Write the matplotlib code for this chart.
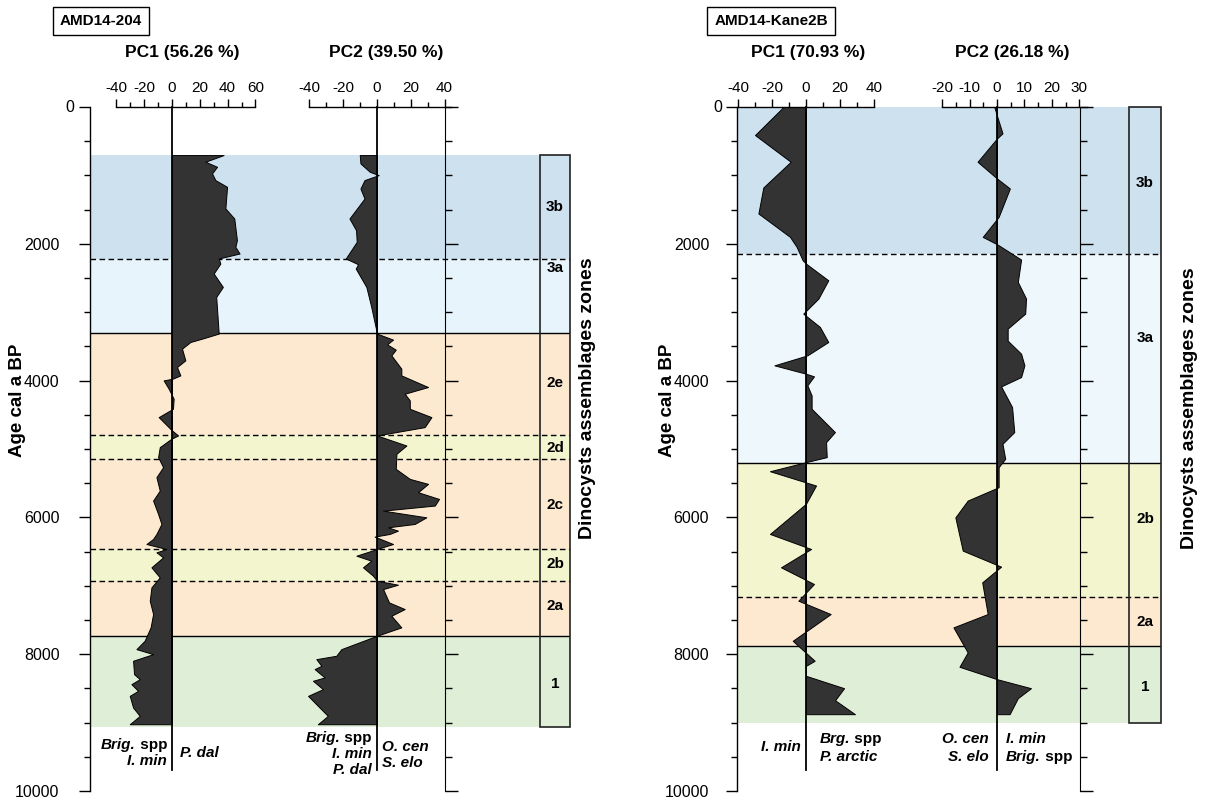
import matplotlib
matplotlib.use("Agg")
import matplotlib.pyplot as plt
from matplotlib.patches import Rectangle
from matplotlib.ticker import MultipleLocator, FuncFormatter

plt.rcParams['font.family'] = ['Liberation Sans', 'DejaVu Sans']
plt.rcParams['axes.unicode_minus'] = False

# ---------------- data ----------------
# AMD14-204
l_zone_edges = [700, 2220, 3300, 4800, 5140, 6460, 6930, 7730, 9070]
l_zone_names = ['3b', '3a', '2e', '2d', '2c', '2b', '2a', '1']
l_zone_label_age = [1460, 2360, 4030, 4990, 5820, 6680, 7290, 8430]
l_zone_colors = ['#cde1ef', '#e8f4fb', '#fce9cf', '#f3f5cf', '#fce9cf', '#f3f5cf', '#fce9cf', '#dfefd7']
l_bound_styles = ['--', '-', '--', '--', '--', '--', '-']

l_pc1_age = [703, 800, 874, 971, 1069, 1167, 1483, 1630, 1947, 2045, 2142, 2215, 2289, 2435, 2631,
             2777, 3313, 3387, 3436, 3533, 3704, 3801, 3924, 3972, 3997, 4119, 4265, 4412, 4534, 4729,
             4802, 4851, 4973, 5119, 5266, 5412, 5608, 5754, 5950, 6096, 6242, 6315, 6389, 6462, 6511,
             6584, 6730, 6877, 7023, 7218, 7413, 7608, 7804, 7926, 7999, 8096, 8292, 8365, 8438, 8536,
             8609, 8780, 8902, 9024]
l_pc1_val = [37.1, 24, 32.4, 28.8, 31.2, 39.6, 38.4, 44.8, 46.7, 45.6, 48.6, 33.6, 34.8, 30, 36.6,
             31.8, 33.6, 21.6, 13.2, 7.2, 9.6, 3.6, 6, 0.5, -6, -2.4, 1.2, 0.7, -9.6, 0,
             4.4, -0.5, -8.8, -10, -6.4, -11.2, -8.8, -13.6, -10, -7.6, -11.2, -13.6, -18.4, -4, -11.2,
             -6.4, -14.8, -8.8, -14.8, -16, -13.6, -15.4, -19.7, -25.6, -13.6, -28, -27.3, -23.2, -29.2, -24.4,
             -30.4, -28, -23.2, -30.4]

l_pc2_age = [703, 825, 947, 996, 1069, 1192, 1338, 1630, 1801, 1972, 2215, 2299, 2362, 2631, 2924,
             3313, 3401, 3470, 3548, 3631, 3826, 3924, 4094, 4192, 4290, 4412, 4534, 4680, 4802, 4949,
             5070, 5290, 5437, 5510, 5632, 5730, 5827, 5901, 5999, 6096, 6145, 6194, 6242, 6281, 6389,
             6462, 6560, 6633, 6730, 6852, 6926, 6984, 7048, 7243, 7340, 7438, 7608, 7730, 7926, 8023,
             8072, 8170, 8218, 8340, 8389, 8511, 8609, 8682, 8902, 9024]
l_pc2_val = [-10.2, -9.8, -4.3, 1, -7.4, -9.8, -7.4, -16.3, -12.4, -12, -18.5, -11.2, -12.6, -6.3, -3.4,
             0, 9.5, 6, 11.1, 8.5, 14.4, 14.4, 30.2, 16.4, 19.4, 19.4, 32.2, 28.2, 0, 17.4,
             11.5, 11.1, 19.4, 30.2, 24.3, 36.7, 34.2, 3.6, 29.2, 22.3, 6.5, 12.4, 7.5, -1.4, 9.5,
             0, -12.2, -3.4, -8.3, -2.4, 0, 12.4, 3.6, 7.1, 16.4, 8.5, 14.4, 0, -21.1, -24.1,
             -35.9, -32.9, -36.9, -31, -37.9, -32, -40.8, -37.9, -29.1, -35]

# AMD14-Kane2B
r_zone_edges = [0, 2150, 5200, 7170, 7880, 9000]
r_zone_names = ['3b', '3a', '2b', '2a', '1']
r_zone_label_age = [1110, 3370, 6030, 7525, 8480]
r_zone_colors = ['#cde1ef', '#eef7fb', '#f3f5cf', '#fce9cf', '#dfefd7']
r_bound_styles = ['--', '-', '--', '-']

r_pc1_age = [0, 410, 801, 1176, 1557, 1899, 2045, 2240, 2290, 2533, 2801, 3021, 3216, 3436, 3631,
             3777, 3899, 3938, 4070, 4216, 4412, 4753, 4900, 5119, 5192, 5325, 5534, 5800, 6242, 6462,
             6730, 6974, 7218, 7413, 7804, 8096, 8170, 8316, 8497, 8673, 8877]
r_pc1_val = [-13.3, -30, -9, -25.1, -28, -9.4, -5.5, -2, 0, 13.1, 7.3, -1.6, 8.2, 13.1, 0.8,
             -18.6, 0, 4.7, 0.8, 3.3, 3.3, 17, 11.8, 12.2, 0, -21.2, 5.9, 0, -21.2, 3,
             -14.7, 4.7, -4.5, 14.5, -7.8, 5.1, 0, 0, 22.4, 17.1, 28.8]

r_pc2_age = [0, 385, 459, 801, 1045, 1191, 1606, 1899, 2006, 2230, 2557, 2801, 3021, 3240, 3416,
             3607, 3777, 3948, 4085, 4387, 4753, 4924, 5143, 5266, 5559, 5754, 6000, 6486, 6720, 6950,
             7413, 7608, 7974, 8184, 8365, 8497, 8643, 8877]
r_pc2_val = [-1, 2, 0, -7.1, 0, 4.7, 0.6, -5.2, 0, 8.8, 7.6, 10.6, 10.3, 3.9, 3.9,
             8.8, 10, 8.8, 1.5, 5.5, 6.3, 2, 3, 0.6, 0.6, -10.7, -15.2, -12.5, 1.5, -5.4,
             -3.4, -15.9, -10.7, -13.7, 0, 12.4, 7.6, 4.6]

# ---------------- layout (pixels) ----------------
W, H = 1205, 802
Y0, Y1 = 107, 791  # age 0 and age 10000
fig = plt.figure(figsize=(W / 100, H / 100), dpi=100)


def add_px(x0, x1, y0=Y0, y1=Y1):
    return fig.add_axes([x0 / W, 1 - y1 / H, (x1 - x0) / W, (y1 - y0) / H])


def age_ticks(ax):
    ax.set_ylim(10000, 0)
    ax.yaxis.set_major_locator(MultipleLocator(2000))
    ax.yaxis.set_minor_locator(MultipleLocator(500))


def background(x0, col0, col1, edges, colors, styles, names, label_ages, pad):
    ax = add_px(x0, col1)
    ax.set_xlim(0, 1)
    age_ticks(ax)
    # the "0" label sits closer to the axis in the original; drawn separately
    ax.yaxis.set_major_formatter(FuncFormatter(lambda v, p: '' if v == 0 else '%d' % v))
    for s in ['top', 'right', 'bottom']:
        ax.spines[s].set_visible(False)
    ax.spines['left'].set_linewidth(1.0)
    ax.set_xticks([])
    ax.tick_params(axis='y', which='major', length=8, width=1, labelsize=11.5, pad=pad)
    ax.tick_params(axis='y', which='minor', length=4, width=1)
    for i, c in enumerate(colors):
        ax.axhspan(edges[i], edges[i + 1], color=c, lw=0, zorder=0)
    for age, ls in zip(edges[1:-1], styles):
        if ls == '--':
            ax.axhline(age, color='k', lw=1.0, ls=(0, (4, 2.5)), zorder=1)
        else:
            ax.axhline(age, color='k', lw=1.0, zorder=1)
    cx = (col0 - x0) / (col1 - x0)
    ax.add_patch(Rectangle((cx, edges[0]), 1 - cx, edges[-1] - edges[0], fill=False,
                           ec='#222222', lw=1.2, clip_on=False, zorder=2))
    for name, a in zip(names, label_ages):
        ax.text((cx + 1) / 2, a, name, ha='center', va='center', fontsize=11,
                fontweight='bold', zorder=3)
    return ax


def right_spine(x):
    ax = add_px(x, x + 1)
    ax.patch.set_visible(False)
    age_ticks(ax)
    for s in ['top', 'right', 'bottom']:
        ax.spines[s].set_visible(False)
    ax.set_xticks([])
    ax.tick_params(axis='y', which='both', direction='in', labelleft=False, width=1)
    ax.tick_params(axis='y', which='major', length=9)
    ax.tick_params(axis='y', which='minor', length=5)
    return ax


def pc_axis(zero_px, scale, lo, hi, major, minor, ages, vals):
    ax = add_px(zero_px + lo * scale, zero_px + hi * scale)
    ax.patch.set_visible(False)
    ax.set_xlim(lo, hi)
    ax.set_ylim(10000, 0)
    for s in ['left', 'right', 'bottom']:
        ax.spines[s].set_visible(False)
    ax.spines['top'].set_linewidth(1.0)
    ax.set_yticks([])
    ax.xaxis.set_ticks_position('top')
    ax.xaxis.set_major_locator(MultipleLocator(major))
    ax.xaxis.set_minor_locator(MultipleLocator(minor))
    ax.tick_params(axis='x', which='major', length=6, width=1, labelsize=11, pad=3)
    ax.tick_params(axis='x', which='minor', length=3.5, width=1)
    ax.fill_betweenx(ages, 0, vals, facecolor='#333333', edgecolor='black', lw=0.7,
                     clip_on=False, zorder=2)
    ax.plot([0, 0], [0, 9690], color='black', lw=1.3, clip_on=False, zorder=3)
    return ax


# ---- left panel ----
background(90, 540, 570, l_zone_edges, l_zone_colors, l_bound_styles, l_zone_names,
           l_zone_label_age, pad=14)
right_spine(445)
pc_axis(172, 1.39, -40, 60, 20, 10, l_pc1_age, l_pc1_val)
pc_axis(377, 1.69, -40, 44, 20, 10, l_pc2_age, l_pc2_val)

# ---- right panel ----
background(737, 1129, 1161, r_zone_edges, r_zone_colors, r_bound_styles, r_zone_names,
           r_zone_label_age, pad=12)
right_spine(1080)
pc_axis(806, 1.70, -40, 40, 20, 10, r_pc1_age, r_pc1_val)
pc_axis(997, 2.74, -20, 33, 10, 5, r_pc2_age, r_pc2_val)

# ---- text overlay in pixel coordinates ----
ov = fig.add_axes([0, 0, 1, 1])
ov.set_xlim(0, W)
ov.set_ylim(H, 0)
ov.axis('off')

ov.text(74, 107, '0', ha='right', va='center', fontsize=11.5)
ov.text(722, 107, '0', ha='right', va='center', fontsize=11.5)

box = dict(boxstyle='square,pad=0.45', fc='white', ec='black', lw=1)
ov.text(101, 21, 'AMD14-204', ha='center', va='center', fontsize=11, fontweight='bold', bbox=box)
ov.text(771, 21, 'AMD14-Kane2B', ha='center', va='center', fontsize=11, fontweight='bold', bbox=box)

for x, s in [(182, 'PC1 (56.26 %)'), (386, 'PC2 (39.50 %)'),
             (808, 'PC1 (70.93 %)'), (1012, 'PC2 (26.18 %)')]:
    ov.text(x, 53, s, ha='center', va='center', fontsize=12.5, fontweight='bold')

for x in [18, 667]:
    ov.text(x, 400, 'Age cal a BP', rotation=90, ha='center', va='center',
            fontsize=13.5, fontweight='bold')
for x, y in [(588, 398), (1189, 408)]:
    ov.text(x, y, 'Dinocysts assemblages zones', rotation=90, ha='center', va='center',
            fontsize=14, fontweight='bold')


def label(x, y, parts, ha):
    # parts: list of (string, italic?) drawn on one baseline
    kw = dict(fontsize=11, fontweight='bold', va='baseline')
    prev = None
    seq = parts if ha == 'left' else list(reversed(parts))
    for s, it in seq:
        st = 'italic' if it else 'normal'
        if prev is None:
            prev = ov.text(x, y, s, ha=ha, fontstyle=st, **kw)
        else:
            fx = 1 if ha == 'left' else 0
            prev = ov.annotate(s, xy=(fx, y), xycoords=(prev, 'data'), ha=ha,
                               fontstyle=st, **kw)


brig = [('Brig.', True), (' spp', False)]
brg = [('Brg.', True), (' spp', False)]
imin = [('I. min', True)]
pdal = [('P. dal', True)]
ocen = [('O. cen', True)]
selo = [('S. elo', True)]
parc = [('P. arctic', True)]

label(167, 749, brig, 'right')
label(167, 765, imin, 'right')
label(180, 757, pdal, 'left')
label(372, 742, brig, 'right')
label(372, 758, imin, 'right')
label(372, 774, pdal, 'right')
label(382, 751, ocen, 'left')
label(382, 767, selo, 'left')

label(801, 751, imin, 'right')
label(820, 743, brg, 'left')
label(820, 761, parc, 'left')
label(989, 743, ocen, 'right')
label(989, 761, selo, 'right')
label(1006, 743, imin, 'left')
label(1006, 761, brig, 'left')

fig.savefig('out.png', dpi=100)
